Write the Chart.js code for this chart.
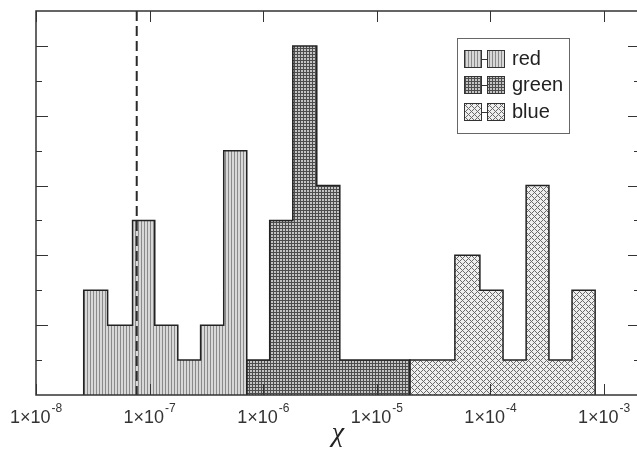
<!DOCTYPE html>
<html>
<head>
<meta charset="utf-8">
<script src="https://cdn.jsdelivr.net/npm/chart.js@4"></script>
<style>
html, body { margin: 0; padding: 0; background: #fff; overflow: hidden; }
canvas { display: block; }
</style>
</head>
<body>
<canvas id="histChart" width="642" height="451"></canvas>
<script>
// Bin edges (chi) and counts for each series
const redEdges = [2.63e-8, 4.27e-8, 7.08e-8, 1.11e-7, 1.77e-7, 2.81e-7, 4.49e-7, 7.16e-7];
const redCounts = [3, 2, 5, 2, 1, 2, 7];
const greenEdges = [7.16e-7, 1.14e-6, 1.82e-6, 2.96e-6, 4.72e-6, 1.95e-5];
const greenCounts = [1, 5, 10, 6, 1];
const blueEdges = [1.95e-5, 4.86e-5, 8.07e-5, 1.29e-4, 2.06e-4, 3.27e-4, 5.22e-4, 8.34e-4];
const blueCounts = [1, 4, 3, 1, 6, 1, 3];

const seriesNames = ['red', 'green', 'blue'];
const xTickValues = [1e-8, 1e-7, 1e-6, 1e-5, 1e-4, 1e-3];
const xTickExponents = ['-8', '-7', '-6', '-5', '-4', '-3'];
const yTickValues = [1, 2, 3, 4, 5, 6, 7, 8, 9, 10];
const thresholdChi = 7.7e-8; // пунктирная линия

// Штриховки
function makePattern(kind) {
    const c = document.createElement('canvas');
    const g = c.getContext('2d');
    if (kind === 'vert') {
        c.width = 3; c.height = 3;
        g.fillStyle = '#d8d8d8'; g.fillRect(0, 0, 3, 3);
        g.fillStyle = '#8a8a8a'; g.fillRect(0, 0, 1, 3);
    } else if (kind === 'grid') {
        c.width = 3; c.height = 3;
        g.fillStyle = '#c4c4c4'; g.fillRect(0, 0, 3, 3);
        g.fillStyle = '#4d4d4d'; g.fillRect(0, 0, 3, 1); g.fillRect(0, 0, 1, 3);
    } else {
        c.width = 6; c.height = 6;
        g.fillStyle = '#efefef'; g.fillRect(0, 0, 6, 6);
        g.fillStyle = '#6a6a6a';
        for (let x = 0; x < 6; x++) {
            for (let y = 0; y < 6; y++) {
                if ((x + y) % 6 === 0 || (x - y + 6) % 6 === 0) g.fillRect(x, y, 1, 1);
            }
        }
    }
    return g.createPattern(c, 'repeat');
}
const patterns = [makePattern('vert'), makePattern('grid'), makePattern('cross')];

// Точки ступенчатой гистограммы
function histPoints(edges, counts) {
    const pts = [{ x: edges[0], y: 0 }];
    counts.forEach((c, i) => pts.push({ x: edges[i], y: c }));
    pts.push({ x: edges[edges.length - 1], y: 0 });
    return pts;
}

const allSeries = [[redEdges, redCounts], [greenEdges, greenCounts], [blueEdges, blueCounts]];
const fontSans = '"Liberation Sans", Arial, sans-serif';

// Рамка, засечки, пунктир, подписи, легенда
const framePlugin = {
    id: 'frame',
    afterDatasetsDraw(chart) {
        const { ctx, chartArea: a, scales } = chart;
        const xs = scales.x, ys = scales.y;
        ctx.save();
        // dashed line
        const xd = xs.getPixelForValue(thresholdChi);
        ctx.strokeStyle = '#2a2a2a';
        ctx.lineWidth = 2;
        ctx.setLineDash([10, 5]);
        ctx.beginPath();
        ctx.moveTo(xd, a.top);
        ctx.lineTo(xd, a.bottom);
        ctx.stroke();
        ctx.setLineDash([]);

        ctx.strokeStyle = '#333';
        ctx.lineWidth = 1.5;
        ctx.strokeRect(a.left, a.top, a.right - a.left, a.bottom - a.top);
        ctx.lineWidth = 1;
        ctx.beginPath();
        yTickValues.forEach(v => {
            const y = Math.round(ys.getPixelForValue(v)) + 0.5;
            const len = v % 2 === 0 ? 12 : 6;
            ctx.moveTo(a.left, y); ctx.lineTo(a.left + len, y);
            ctx.moveTo(a.right, y); ctx.lineTo(a.right - len, y);
        });
        xTickValues.forEach(v => {
            const x = Math.round(xs.getPixelForValue(v)) + 0.5;
            ctx.moveTo(x, a.top); ctx.lineTo(x, a.top + 11);
            ctx.moveTo(x, a.bottom); ctx.lineTo(x, a.bottom - 11);
        });
        ctx.stroke();

        // подписи оси X: 1×10 с показателем степени
        ctx.fillStyle = '#333';
        ctx.textBaseline = 'alphabetic';
        ctx.textAlign = 'left';
        xTickValues.forEach((v, i) => {
            const x = xs.getPixelForValue(v);
            ctx.font = '18px ' + fontSans;
            const base = '1×10';
            const wb = ctx.measureText(base).width;
            ctx.font = '12px ' + fontSans;
            const we = ctx.measureText(xTickExponents[i]).width;
            const x0 = x - (wb + we + 1) / 2;
            ctx.font = '18px ' + fontSans;
            ctx.fillText(base, x0, 423);
            ctx.font = '12px ' + fontSans;
            ctx.fillText(xTickExponents[i], x0 + wb + 1, 412);
        });

        // легенда
        const bx = 457, by = 38, bw = 112, bh = 95;
        ctx.fillStyle = '#fff';
        ctx.fillRect(bx, by, bw, bh);
        ctx.strokeStyle = '#666';
        ctx.lineWidth = 1;
        ctx.strokeRect(bx + 0.5, by + 0.5, bw, bh);
        const rows = [59, 85, 112];
        seriesNames.forEach((name, i) => {
            const cy = rows[i];
            [464, 487].forEach(sx => {
                ctx.fillStyle = patterns[i];
                ctx.fillRect(sx, cy - 9, 17, 18);
                ctx.strokeStyle = '#333';
                ctx.strokeRect(sx + 0.5, cy - 8.5, 17, 17);
            });
            ctx.beginPath();
            ctx.moveTo(481, cy + 0.5); ctx.lineTo(488, cy + 0.5);
            ctx.stroke();
            ctx.fillStyle = '#222';
            ctx.font = '20px ' + fontSans;
            ctx.textBaseline = 'middle';
            ctx.fillText(name, 512, cy);
        });
        ctx.restore();
    }
};

const ctx = document.getElementById('histChart').getContext('2d');
const chart = new Chart(ctx, {
    type: 'line',
    data: {
        datasets: allSeries.map((s, i) => ({
            label: seriesNames[i],
            data: histPoints(s[0], s[1]),
            stepped: true,
            fill: 'origin',
            backgroundColor: patterns[i],
            borderColor: '#222',
            borderWidth: 1.5,
            pointRadius: 0,
            tension: 0
        }))
    },
    options: {
        responsive: false,
        animation: false,
        layout: { padding: { left: 36, top: 11, right: 2, bottom: 0 } },
        plugins: { legend: { display: false }, tooltip: { enabled: false } },
        scales: {
            x: {
                type: 'logarithmic',
                min: 1e-8,
                max: 2.07e-3,
                grid: { display: false, drawTicks: false },
                border: { display: false },
                afterBuildTicks: s => { s.ticks = xTickValues.map(v => ({ value: v })); },
                afterFit: s => { s.height = 56; },
                ticks: { display: false },
                title: {
                    display: true,
                    text: 'χ',
                    color: '#222',
                    padding: { top: 0, bottom: 1 },
                    font: { family: '"Liberation Serif", "DejaVu Serif", serif', style: 'italic', size: 28 }
                }
            },
            y: {
                display: false,
                min: 0,
                max: 11
            }
        }
    },
    plugins: [framePlugin]
});
</script>
</body>
</html>
